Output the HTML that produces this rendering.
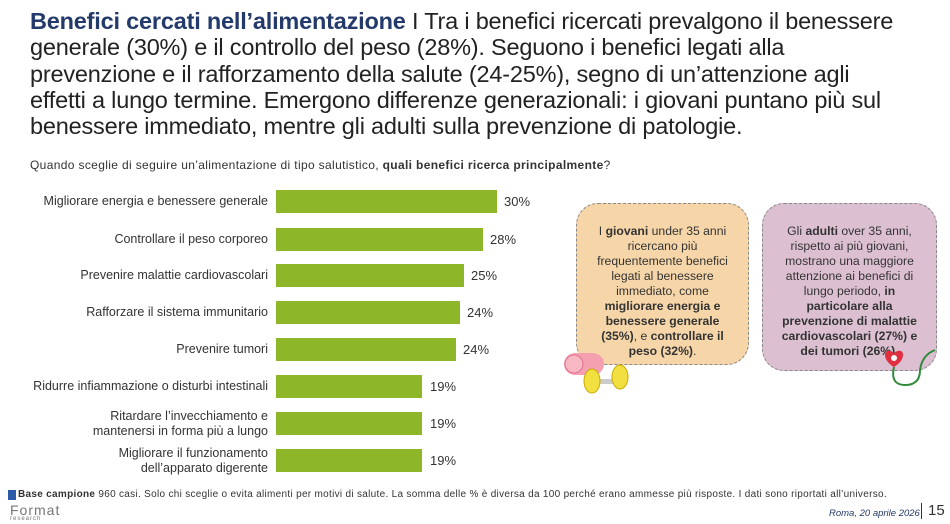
<!DOCTYPE html>
<html><head><meta charset="utf-8"><style>
body{margin:0;width:950px;height:524px;background:#fff;position:relative;overflow:hidden;font-family:"Liberation Sans",sans-serif;color:#222}
.t{position:absolute;left:30px;top:8px;width:930px;white-space:nowrap;font-size:23.5px;line-height:26.3px;letter-spacing:-0.2px;color:#222}
.t b{color:#233a6b}
.q{position:absolute;left:30px;top:158px;font-size:12px;letter-spacing:0.35px;color:#333}
.lab{position:absolute;right:682px;width:270px;text-align:right;font-size:12.5px;line-height:15px;color:#333}
.bar{position:absolute;left:276px;height:23px;background:#8db728}
.v{position:absolute;font-size:13px;color:#333}
.box{position:absolute;border:1.5px dashed #888;border-radius:22px;box-sizing:border-box;text-align:center;font-size:12.2px;line-height:15px;color:#333;padding:20px 14px}
.f{position:absolute;left:18px;top:489px;font-size:10px;letter-spacing:0.3px;color:#333}
</style></head><body>
<div class="t"><b>Benefici cercati nell’alimentazione</b> I Tra i benefici ricercati prevalgono il benessere<br>generale (30%) e il controllo del peso (28%). Seguono i benefici legati alla<br>prevenzione e il rafforzamento della salute (24-25%), segno di un’attenzione agli<br>effetti a lungo termine. Emergono differenze generazionali: i giovani puntano più sul<br>benessere immediato, mentre gli adulti sulla prevenzione di patologie.</div>
<div class="q">Quando sceglie di seguire un’alimentazione di tipo salutistico, <b>quali benefici ricerca principalmente</b>?</div>

<div class="lab" style="top:194px">Migliorare energia e benessere generale</div>
<div class="bar" style="top:190px;width:221px"></div><div class="v" style="left:504px;top:194px">30%</div>
<div class="lab" style="top:232px">Controllare il peso corporeo</div>
<div class="bar" style="top:228px;width:207px"></div><div class="v" style="left:490px;top:232px">28%</div>
<div class="lab" style="top:268px">Prevenire malattie cardiovascolari</div>
<div class="bar" style="top:264px;width:188px"></div><div class="v" style="left:471px;top:268px">25%</div>
<div class="lab" style="top:305px">Rafforzare il sistema immunitario</div>
<div class="bar" style="top:301px;width:184px"></div><div class="v" style="left:467px;top:305px">24%</div>
<div class="lab" style="top:342px">Prevenire tumori</div>
<div class="bar" style="top:338px;width:180px"></div><div class="v" style="left:463px;top:342px">24%</div>
<div class="lab" style="top:379px">Ridurre infiammazione o disturbi intestinali</div>
<div class="bar" style="top:375px;width:146px"></div><div class="v" style="left:430px;top:379px">19%</div>
<div class="lab" style="top:409px">Ritardare l’invecchiamento e<br>mantenersi in forma più a lungo</div>
<div class="bar" style="top:412px;width:146px"></div><div class="v" style="left:430px;top:416px">19%</div>
<div class="lab" style="top:446px">Migliorare il funzionamento<br>dell’apparato digerente</div>
<div class="bar" style="top:449px;width:146px"></div><div class="v" style="left:430px;top:453px">19%</div>

<div class="box" style="left:576px;top:203px;width:173px;height:162px;background:#f6d6a8">I <b>giovani</b> under 35 anni ricercano più frequentemente benefici legati al benessere immediato, come <b>migliorare energia e benessere generale (35%)</b>, e <b>controllare il peso (32%)</b>.</div>
<div class="box" style="left:762px;top:203px;width:175px;height:168px;background:#dcc0d2">Gli <b>adulti</b> over 35 anni, rispetto ai più giovani, mostrano una maggiore attenzione ai benefici di lungo periodo, <b>in particolare alla prevenzione di malattie cardiovascolari (27%) e dei tumori (26%).</b></div>
<svg style="position:absolute;left:560px;top:345px" width="80" height="60"><rect x="4" y="8" width="40" height="22" rx="11" fill="#f4a0b0"/><circle cx="14" cy="19" r="9" fill="#f7b8c4" stroke="#e07090"/><rect x="30" y="34" width="30" height="5" fill="#ccc"/><ellipse cx="32" cy="36" rx="8" ry="12" fill="#f2e040" stroke="#c9a800"/><ellipse cx="60" cy="32" rx="8" ry="12" fill="#f2e040" stroke="#c9a800"/></svg>
<svg style="position:absolute;left:880px;top:345px" width="65" height="50"><path d="M14 8 C4 0 0 14 14 22 C28 14 24 0 14 8Z" fill="#e03040"/><circle cx="14" cy="13" r="3" fill="#fff"/><path d="M14 22 Q10 40 25 40 Q40 40 40 25 Q42 10 55 5" stroke="#2f8a3a" stroke-width="2" fill="none"/></svg>

<div style="position:absolute;left:8px;top:490px;width:8px;height:10px;background:#2a5aa8"></div>
<div class="f"><b>Base campione</b> 960 casi. Solo chi sceglie o evita alimenti per motivi di salute. La somma delle % è diversa da 100 perché erano ammesse più risposte. I dati sono riportati all’universo.</div>
<div style="position:absolute;left:10px;top:502px;font-size:14px;color:#777;letter-spacing:1px">Format</div>
<div style="position:absolute;left:10px;top:516px;font-size:6px;color:#777;letter-spacing:1px">research</div>
<div style="position:absolute;left:829px;top:508px;font-size:9.5px;font-style:italic;color:#233a6b">Roma, 20 aprile 2026</div>
<div style="position:absolute;left:921px;top:503px;width:1px;height:16px;background:#333"></div>
<div style="position:absolute;left:928px;top:502px;font-size:15px;color:#333">15</div>
</body></html>
